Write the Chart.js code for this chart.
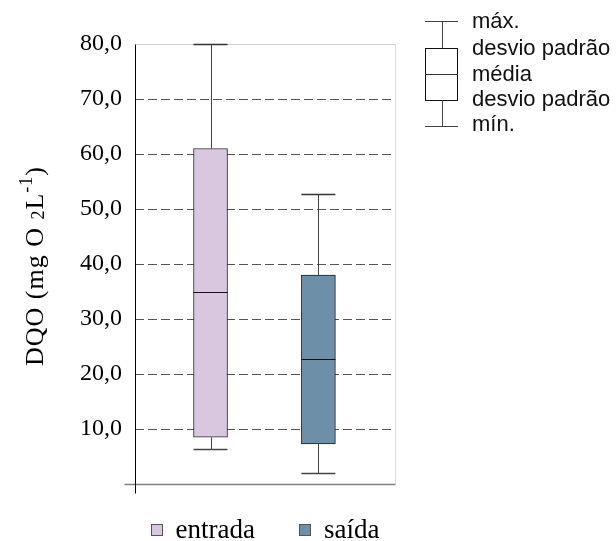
<!DOCTYPE html>
<html>
<head>
<meta charset="utf-8">
<script src="https://cdn.jsdelivr.net/npm/chart.js@4/dist/chart.umd.min.js"></script>
<style>
  html, body { margin: 0; padding: 0; background: #fff; }
  #c { display: block; }
</style>
</head>
<body>
<canvas id="c" width="616" height="541"></canvas>
<script>
// DQO (mg O2 L-1): máx., desvio padrão superior, média, desvio padrão inferior, mín.
const categories = ['entrada', 'saída'];
const positions  = [1, 2];
const maxValues  = [80.0, 52.7];
const upperSD    = [61.0, 38.0];
const meanValues = [34.9, 22.7];
const lowerSD    = [8.5, 7.3];
const minValues  = [6.4, 2.0];
const keyLabels  = ['máx.', 'desvio padrão', 'média', 'desvio padrão', 'mín.'];

const fillColors   = ['#d8c7df', '#6e8fa8'];
const borderColors = ['#2a2a2a', '#1e1e1e'];
const SERIF = '"Liberation Serif", "Times New Roman", serif';
const SANS  = '"Liberation Sans", Arial, sans-serif';

const crisp = v => Math.round(v) + 0.5;

function line(ctx, x1, y1, x2, y2, color, width) {
  ctx.save();
  ctx.strokeStyle = color;
  ctx.lineWidth = width || 1;
  ctx.beginPath();
  ctx.moveTo(x1, y1);
  ctx.lineTo(x2, y2);
  ctx.stroke();
  ctx.restore();
}

// Axis frame: black value axis, grey base line, light top/right border
const framePlugin = {
  id: 'frame',
  beforeDatasetsDraw(chart) {
    const { ctx, chartArea: a } = chart;
    const L = crisp(a.left), R = crisp(a.right), T = crisp(a.top), B = crisp(a.bottom);
    line(ctx, L, T, R, T, '#cfcfcf', 1);
    line(ctx, R, T, R, B, '#dddddd', 1);
    line(ctx, L - 11, B, R, B, '#808080', 1.5);
    line(ctx, L, T, L, B + 9, '#000000', 1);
  }
};

// Whiskers (mín./máx.) and mean line on top of each floating bar
const whiskerPlugin = {
  id: 'whiskers',
  afterDatasetsDraw(chart) {
    const { ctx } = chart;
    const ys = chart.scales.y;
    chart.data.datasets.forEach((ds, i) => {
      const bar = chart.getDatasetMeta(i).data[0];
      if (!bar) return;
      const x = crisp(bar.x);
      const hw = bar.width / 2;
      const yMax = crisp(ys.getPixelForValue(maxValues[i]));
      const yUp  = ys.getPixelForValue(upperSD[i]);
      const yMean = crisp(ys.getPixelForValue(meanValues[i]));
      const yLo  = ys.getPixelForValue(lowerSD[i]);
      const yMin = crisp(ys.getPixelForValue(minValues[i]));
      line(ctx, x, yUp, x, yMax, '#444', 1);
      line(ctx, bar.x - hw, yMax, bar.x + hw, yMax, '#333', 1.3);
      line(ctx, x, yLo, x, yMin, '#444', 1);
      line(ctx, bar.x - hw, yMin, bar.x + hw, yMin, '#444', 1.3);
      line(ctx, bar.x - hw, yMean, bar.x + hw, yMean, '#111', 1);
    });
  }
};

// Axis title, bottom legend and the box-plot key
const textPlugin = {
  id: 'texts',
  afterDraw(chart) {
    const { ctx, chartArea: a } = chart;

    // y-axis title with subscript and superscript
    const parts = [
      { t: 'DQO (mg O ', size: 26, dy: 0 },
      { t: '2', size: 18, dy: 1 },
      { t: 'L', size: 26, dy: 0 },
      { t: '-1', size: 18, dy: -11 },
      { t: ')', size: 26, dy: 0 }
    ];
    ctx.save();
    ctx.letterSpacing = '1px';
    let total = 0;
    parts.forEach(p => { ctx.font = p.size + 'px ' + SERIF; p.w = ctx.measureText(p.t).width; total += p.w; });
    ctx.translate(43, (a.top + a.bottom) / 2 + 2);
    ctx.rotate(-Math.PI / 2);
    ctx.fillStyle = '#000';
    ctx.textBaseline = 'alphabetic';
    let cx = -total / 2;
    parts.forEach(p => {
      ctx.font = p.size + 'px ' + SERIF;
      ctx.fillText(p.t, cx, p.dy);
      cx += p.w;
    });
    ctx.restore();

    // legend under the plot
    ctx.save();
    ctx.font = '27px ' + SERIF;
    const box = 12, gapText = 13, gapItem = 44;
    const items = chart.data.datasets.map(ds => ({ label: ds.label, fill: ds.backgroundColor, w: ctx.measureText(ds.label).width }));
    let width = 0;
    items.forEach((it, i) => { width += box + gapText + it.w + (i ? gapItem : 0); });
    let lx = (a.left + a.right) / 2 - width / 2;
    const boxTop = 524, baseline = 538;
    items.forEach(it => {
      const bx = Math.round(lx);
      ctx.fillStyle = it.fill;
      ctx.fillRect(bx, boxTop, box, box);
      ctx.strokeStyle = '#555';
      ctx.lineWidth = 1;
      ctx.strokeRect(bx + 0.5, boxTop + 0.5, box - 1, box - 1);
      ctx.fillStyle = '#000';
      ctx.textBaseline = 'alphabetic';
      ctx.fillText(it.label, lx + box + gapText, baseline);
      lx += box + gapText + it.w + gapItem;
    });
    ctx.restore();

    // key: box-plot symbol with descriptions
    const kx = 425, kw = 33, kc = crisp(kx + kw / 2);
    const kTop = 21.5, kBoxTop = 48.5, kMid = 74.5, kBoxBot = 100.5, kBot = 126.5;
    line(ctx, kx, kTop, kx + kw, kTop, '#444', 1);
    line(ctx, kc, kTop, kc, kBoxTop, '#444', 1);
    ctx.save();
    ctx.fillStyle = '#fff';
    ctx.fillRect(kx, kBoxTop, kw, kBoxBot - kBoxTop);
    ctx.strokeStyle = '#111';
    ctx.lineWidth = 1;
    ctx.strokeRect(kx + 0.5, kBoxTop, kw - 1, kBoxBot - kBoxTop);
    ctx.restore();
    line(ctx, kx, kMid, kx + kw, kMid, '#333', 1);
    line(ctx, kc, kBoxBot, kc, kBot, '#444', 1);
    line(ctx, kx, kBot, kx + kw, kBot, '#444', 1);

    ctx.save();
    ctx.font = '22px ' + SANS;
    ctx.fillStyle = '#111';
    ctx.textBaseline = 'alphabetic';
    const baselines = [28, 55, 81, 106, 131];
    keyLabels.forEach((t, i) => ctx.fillText(t, 472, baselines[i]));
    ctx.restore();
  }
};

new Chart(document.getElementById('c'), {
  type: 'bar',
  data: {
    datasets: categories.map((c, i) => ({
      label: c,
      data: [{ x: positions[i], y: [lowerSD[i], upperSD[i]] }],
      backgroundColor: fillColors[i],
      borderColor: borderColors[i],
      borderWidth: 1,
      borderSkipped: false,
      barThickness: 34,
      grouped: false
    }))
  },
  options: {
    responsive: false,
    animation: false,
    devicePixelRatio: 1,
    layout: { padding: { top: 44, right: 221, bottom: 57, left: 0 } },
    plugins: { legend: { display: false }, tooltip: { enabled: false } },
    scales: {
      x: { type: 'linear', min: 0.3, max: 2.71, offset: false, display: false },
      y: {
        min: 0,
        max: 80,
        ticks: {
          stepSize: 10,
          padding: 13,
          color: '#000',
          font: { family: SERIF, size: 24 },
          callback: v => (v === 0 ? '' : v.toFixed(1).replace('.', ','))
        },
        grid: {
          drawTicks: false,
          lineWidth: 1,
          color: c => (c.tick && c.tick.value > 0 && c.tick.value < 80 ? '#555' : 'rgba(0,0,0,0)')
        },
        border: { display: false, dash: [9, 4] },
        afterFit(scale) { scale.width = 135; }
      }
    }
  },
  plugins: [framePlugin, whiskerPlugin, textPlugin]
});
</script>
</body>
</html>
